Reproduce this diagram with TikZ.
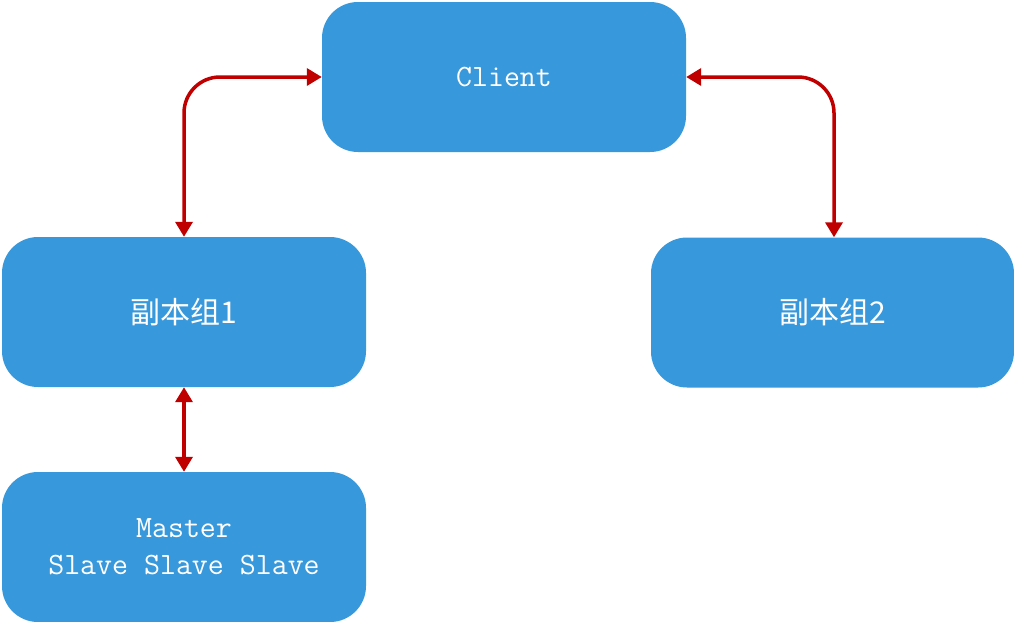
\documentclass[tikz,border=0pt]{standalone}
\usepackage{fontspec}
\newfontfamily\cjk{Noto Sans CJK SC}
\usetikzlibrary{arrows.meta}
\definecolor{boxblue}{RGB}{55,152,219}
\definecolor{arrred}{RGB}{192,0,0}
\tikzset{
  box/.style={rectangle, rounded corners=36pt, fill=boxblue, minimum width=364pt, minimum height=150pt, inner sep=0pt, text=white, align=center},
  monotext/.style={font=\ttfamily\fontsize{31}{37}\selectfont},
  cjktext/.style={font=\cjk\fontsize{30}{37}\selectfont},
  link/.style={draw=arrred, line width=3.5pt, rounded corners=36pt, {Triangle[length=15pt,width=17pt]}-{Triangle[length=15pt,width=17pt]}}
}
\begin{document}
\begin{tikzpicture}[x=1pt,y=-1pt]
\useasboundingbox (0,0) rectangle (1014,621);
\clip (0,0) rectangle (1014,621);
\node[box, monotext] (client) at (504,77) {Client};
\node[box, cjktext] (g1) at (184,312) {副本组1};
\node[box, cjktext, minimum width=363pt] (g2) at (832.5,312.5) {副本组2};
\node[box, monotext] (ms) at (184,547) {Master\\Slave Slave Slave};
\draw[link] (g1.north) |- (client.west);
\draw[link] ([xshift=1.5pt]g2.north) |- (client.east);
\draw[link] (g1.south) -- (ms.north);
\end{tikzpicture}
\end{document}
